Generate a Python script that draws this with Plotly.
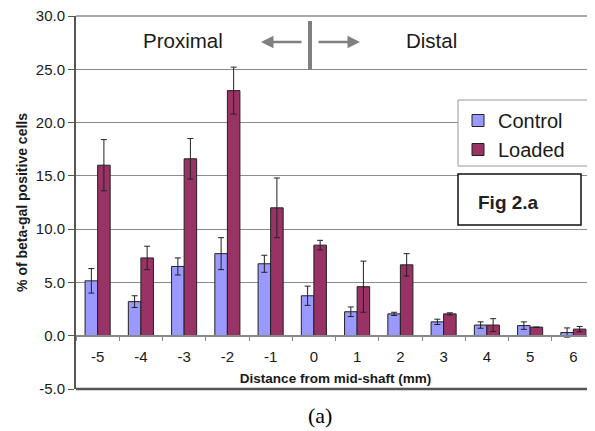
import plotly.graph_objects as go

categories = ["-5", "-4", "-3", "-2", "-1", "0", "1", "2", "3", "4", "5", "6"]
control = [5.15, 3.2, 6.5, 7.7, 6.75, 3.75, 2.25, 2.05, 1.3, 1.0, 0.95, 0.3]
control_err = [1.15, 0.55, 0.8, 1.5, 0.8, 0.9, 0.45, 0.15, 0.25, 0.3, 0.35, 0.43]
loaded = [16.0, 7.3, 16.6, 23.0, 12.0, 8.5, 4.6, 6.65, 2.05, 1.0, 0.8, 0.62]
loaded_err = [2.4, 1.1, 1.9, 2.2, 2.8, 0.45, 2.4, 1.05, 0.1, 0.6, 0.0, 0.25]
y_ticks = [-5, 0, 5, 10, 15, 20, 25, 30]

TXT = "#1a1a1a"
OFF = 8  # page body margin of the browser
W, H = 595 - OFF, 431 - OFF
L, R, T, B = 76 - OFF, 0, 16 - OFF, 42
PW, PH = W - L - R, H - T - B


def px(x):
    return (x - OFF - L) / PW


def py(y):
    return (H - B - (y - OFF)) / PH


fig = go.Figure()
fig.add_trace(go.Bar(
    x=categories, y=control, name="Control",
    marker=dict(color="#9999FF", line=dict(color="#222222", width=1)),
    error_y=dict(type="data", array=control_err, color="#222222", thickness=1, width=3),
))
fig.add_trace(go.Bar(
    x=categories, y=loaded, name="Loaded",
    marker=dict(color="#993366", line=dict(color="#222222", width=1)),
    error_y=dict(type="data", array=loaded_err, color="#222222", thickness=1, width=3),
))

fig.update_layout(
    width=W, height=H,
    margin=dict(l=L, r=R, t=T, b=B, autoexpand=False),
    paper_bgcolor="white", plot_bgcolor="white",
    barmode="group", bargap=0.42, bargroupgap=0.0,
    font=dict(family="Arial, Liberation Sans, sans-serif", color=TXT),
    showlegend=True,
    legend=dict(
        x=px(458), y=py(101), xanchor="left", yanchor="top",
        bgcolor="rgba(0,0,0,0)", borderwidth=0,
        font=dict(size=20, color=TXT), itemwidth=30,
    ),
    xaxis=dict(
        type="category", range=[-0.5, 11.5], automargin=False,
        anchor="free", position=5 / 35,
        showline=True, linecolor="#888888", linewidth=1.5,
        ticks="outside", tickson="boundaries", ticklen=5, tickcolor="#888888",
        ticklabelstandoff=8,
        tickfont=dict(size=15, color=TXT),
        showgrid=False,
        title=dict(text="<b>Distance from mid-shaft (mm)</b>", font=dict(size=13.5, color=TXT), standoff=8),
    ),
    yaxis=dict(
        range=[-5, 30], tickvals=y_ticks, automargin=False,
        ticktext=[f"{v:.1f}" for v in y_ticks],
        ticklabeloverflow="allow",
        showgrid=True, gridcolor="#8c8c8c", gridwidth=1,
        zeroline=False,
        showline=True, linecolor="#555555", linewidth=2,
        ticks="outside", ticklen=6, tickcolor="#555555",
        tickfont=dict(size=15, color=TXT),
        title=dict(text="<b>% of beta-gal positive cells</b>", font=dict(size=14, color=TXT), standoff=5),
    ),
)

# bottom frame
fig.add_shape(type="line", xref="paper", yref="paper", x0=0, x1=1, y0=0, y1=0,
              line=dict(color="#555555", width=2.5))
# top frame
fig.add_shape(type="line", xref="paper", yref="paper", x0=0, x1=1, y0=1, y1=1,
              line=dict(color="#8c8c8c", width=1.5))

# legend frame
fig.add_shape(type="rect", xref="paper", yref="paper", x0=px(458), x1=px(591),
              y0=py(166), y1=py(100), line=dict(color="#999999", width=1),
              fillcolor="white", layer="above")

C = dict(xref="paper", yref="paper", xanchor="center", yanchor="middle")

# Proximal / Distal header
fig.add_annotation(x=px(183), y=py(40), text="Proximal", showarrow=False,
                   font=dict(size=20.5, color=TXT), **C)
fig.add_annotation(x=px(431), y=py(40), text="Distal", showarrow=False,
                   font=dict(size=20.5, color=TXT), **C)
fig.add_annotation(x=px(261), y=py(42), text="", showarrow=True, arrowhead=2,
                   arrowsize=1, arrowwidth=2.5, arrowcolor="#808080", ax=42, ay=0, **C)
fig.add_annotation(x=px(360), y=py(42), text="", showarrow=True, arrowhead=2,
                   arrowsize=1, arrowwidth=2.5, arrowcolor="#808080", ax=-43, ay=0, **C)
fig.add_shape(type="line", xref="paper", yref="paper", x0=px(310), x1=px(310),
              y0=py(21), y1=py(70), line=dict(color="#808080", width=4))

# Fig 2.a box
fig.add_shape(type="rect", xref="paper", yref="paper", x0=px(458), x1=px(581),
              y0=py(225), y1=py(174), line=dict(color="#111111", width=1.5),
              fillcolor="white")
fig.add_annotation(x=px(508), y=py(202), text="<b>Fig 2.a</b>", showarrow=False,
                   font=dict(size=19, color="#222222"), **C)

# (a) caption
fig.add_annotation(x=px(320), y=py(415), text="(a)", showarrow=False,
                   font=dict(size=22, color="#000000",
                             family="Liberation Serif, DejaVu Serif, serif"), **C)

fig.write_html("out.html")
